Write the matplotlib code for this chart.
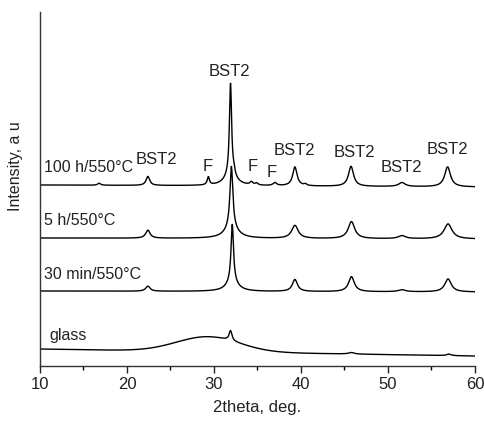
import numpy as np
import matplotlib.pyplot as plt

plt.rcParams["font.family"] = ["Liberation Sans", "DejaVu Sans"]

# sample names, bottom to top
samples = ["glass", "30 min/550°C", "5 h/550°C", "100 h/550°C"]

# baseline level of each pattern at 10° and at 60° (stacked, a.u.)
base_start = [17, 75, 128, 181]
base_end = [10, 74, 127, 179]

# reflections: (2theta, height, half width)
peaks_glass = [(31.9, 10, 0.2), (45.8, 1.5, 0.4), (57.0, 1.5, 0.3)]
glass_hump = (29.3, 15, 3.6)  # amorphous halo: centre, height, sigma

peaks_30min = [(22.4, 5, 0.3), (32.1, 58, 0.17), (32.1, 9, 0.8),
               (39.3, 12, 0.35), (45.8, 15, 0.4), (51.6, 2, 0.5),
               (56.9, 13, 0.45)]
peaks_5h = [(22.4, 8, 0.3), (32.0, 62, 0.2), (32.0, 10, 0.9),
            (39.3, 13, 0.45), (45.8, 17, 0.45), (51.6, 3, 0.5),
            (56.9, 15, 0.55)]
peaks_100h = [(16.8, 2, 0.2), (22.4, 9, 0.25), (29.35, 8, 0.15),
              (31.9, 92, 0.15), (31.9, 10, 0.8), (32.3, 4, 0.15),
              (34.3, 3, 0.2), (34.9, 2, 0.2), (37.0, 3, 0.25),
              (39.3, 19, 0.3), (40.5, 1.5, 0.2), (45.75, 20, 0.35),
              (51.6, 4, 0.45), (56.85, 20, 0.4)]
peak_sets = [peaks_glass, peaks_30min, peaks_5h, peaks_100h]

# sample name placement (2theta, level)
name_pos = [(11.1, 31), (10.5, 92), (10.5, 146), (10.5, 199)]

# phase labels above the 100 h pattern
phase_labels = [("BST2", 31.8, 295), ("BST2", 23.4, 207), ("F", 29.3, 200),
                ("F", 34.4, 200), ("F", 36.6, 194), ("BST2", 39.2, 216),
                ("BST2", 46.2, 214), ("BST2", 51.6, 199), ("BST2", 56.8, 217)]

tth = np.linspace(10, 60, 2501)


def pattern(peaks, y0, y1):
    y = y0 + (y1 - y0) * (tth - 10) / 50
    for c, h, w in peaks:
        y = y + h / (1 + ((tth - c) / w) ** 2)
    return y


fig = plt.figure(figsize=(4.84, 4.21), dpi=100)
ax = fig.add_axes([0.0826, 0.1306, 0.8988, 0.8409])

for i, name in enumerate(samples):
    y = pattern(peak_sets[i], base_start[i], base_end[i])
    if name == "glass":
        c, h, s = glass_hump
        y = y + h * np.exp(-((tth - c) ** 2) / (2 * s ** 2))
    ax.plot(tth, y, color="black", lw=1.0)
    ax.text(name_pos[i][0], name_pos[i][1], name, fontsize=11.5,
            ha="left", va="center", color="#222222")

for txt, x, y in phase_labels:
    ax.text(x, y, txt, fontsize=12, ha="center", va="center", color="#222222")

ax.set_xlim(10, 60)
ax.set_ylim(0, 354)
ax.set_xticks([10, 20, 30, 40, 50, 60])
ax.set_xticks(np.arange(15, 60, 10), minor=True)
ax.set_yticks([])
ax.tick_params(axis="x", which="major", direction="out", length=5,
               width=1, labelsize=12, pad=3, colors="#222222")
ax.tick_params(axis="x", which="minor", direction="out", length=3, width=1)
for side in ["top", "right"]:
    ax.spines[side].set_visible(False)
for side in ["left", "bottom"]:
    ax.spines[side].set_color("#333333")
    ax.spines[side].set_linewidth(1.0)

ax.set_xlabel("2theta, deg.", fontsize=12, color="#222222", labelpad=6)
ax.set_ylabel("Intensity, a u", fontsize=11.5, color="#222222")
ax.yaxis.set_label_coords(-0.04, 0.565)

fig.savefig("out.png", dpi=100)
